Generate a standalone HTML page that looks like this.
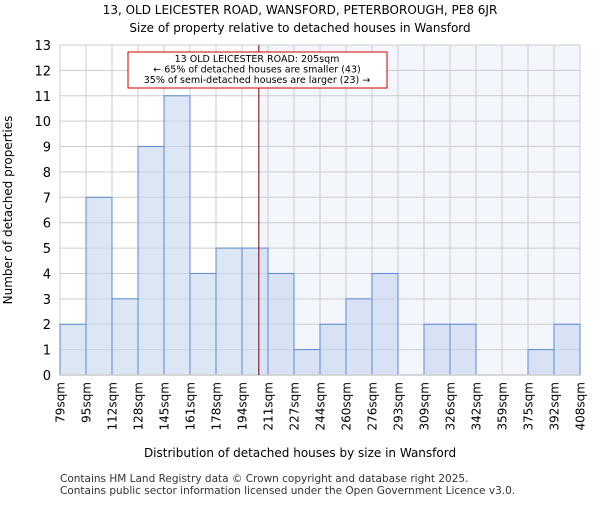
<!DOCTYPE html>
<html><head><meta charset="utf-8"><style>body{margin:0;background:#fff}svg{font-family:"DejaVu Sans","Liberation Sans",sans-serif}</style></head>
<body>
<svg id="chart" width="600" height="500" viewBox="0 0 600 500">
<text x="300" y="14" text-anchor="middle" font-size="12">13, OLD LEICESTER ROAD, WANSFORD, PETERBOROUGH, PE8 6JR</text>
<text x="300" y="32" text-anchor="middle" font-size="12">Size of property relative to detached houses in Wansford</text>
<g id="plot"></g>
<text x="300" y="457" text-anchor="middle" font-size="12">Distribution of detached houses by size in Wansford</text>
<text transform="translate(12,210) rotate(-90)" text-anchor="middle" font-size="12">Number of detached properties</text>
<text x="60" y="482" font-size="10.5" fill="#333">Contains HM Land Registry data © Crown copyright and database right 2025.</text>
<text x="60" y="494" font-size="10.5" fill="#333">Contains public sector information licensed under the Open Government Licence v3.0.</text>
</svg>
<script>
const binEdges=[79,95,112,128,145,161,178,194,211,227,244,260,276,293,309,326,342,359,375,392,408];
const counts=[2,7,3,9,11,4,5,5,4,1,2,3,4,0,2,2,0,0,1,2];
const yTicks=[0,1,2,3,4,5,6,7,8,9,10,11,12,13];
const subjectSize=205;
const annotationLines=["13 OLD LEICESTER ROAD: 205sqm","← 65% of detached houses are smaller (43)","35% of semi-detached houses are larger (23) →"];
const X0=60,X1=580,Y0=375,Y1=45,NS="http://www.w3.org/2000/svg";
const nb=counts.length;
function xIdx(i){return X0+(X1-X0)*i/nb;}
function xVal(v){let i=0;while(i<binEdges.length-2&&v>binEdges[i+1])i++;return xIdx(i+(v-binEdges[i])/(binEdges[i+1]-binEdges[i]));}
function y(v){return Y0-(Y0-Y1)*v/13;}
const g=document.getElementById('plot');
function mk(t,a){const e=document.createElementNS(NS,t);for(const k in a)e.setAttribute(k,a[k]);g.appendChild(e);return e;}
const sx=xVal(subjectSize);
const hl=mk('rect',{x:sx,y:Y1,width:X1-sx,height:Y0-Y1,fill:'#f3f6fd'});


yTicks.forEach(t=>{const l=mk('line',{x1:X0,x2:X1,y1:y(t),y2:y(t),stroke:'#ccc','stroke-width':1});


const tx=mk('text',{x:X0-9,y:y(t)+5,'text-anchor':'end','font-size':13});tx.textContent=t;

});
binEdges.forEach((b,i)=>{const l=mk('line',{x1:xIdx(i),x2:xIdx(i),y1:Y1,y2:Y0,stroke:'#ccc','stroke-width':1});


const tx=mk('text',{transform:`translate(${xIdx(i)+4.5},382) rotate(-90)`,'text-anchor':'end','font-size':12});tx.textContent=b+'sqm';

});
counts.forEach((c,i)=>{if(!c)return;const r=mk('rect',{x:xIdx(i),y:y(c),width:xIdx(i+1)-xIdx(i),height:Y0-y(c),fill:'#c6d6ee','fill-opacity':0.6,stroke:'#5b8bd6','stroke-width':1});

});
const ax=mk('line',{x1:X0,x2:X1,y1:Y0,y2:Y0,stroke:'#ccc','stroke-width':1.5});


const vl=mk('line',{x1:sx,x2:sx,y1:Y1,y2:Y0,stroke:'#700','stroke-width':1});


const box=mk('rect',{x:128,y:52,width:259,height:36,fill:'#fff',stroke:'#c00','stroke-width':1});


annotationLines.forEach((s,i)=>{const t=mk('text',{x:257,y:62+i*10.5,'text-anchor':'middle','font-size':9.5});t.textContent=s;

});
</script>
</body></html>
